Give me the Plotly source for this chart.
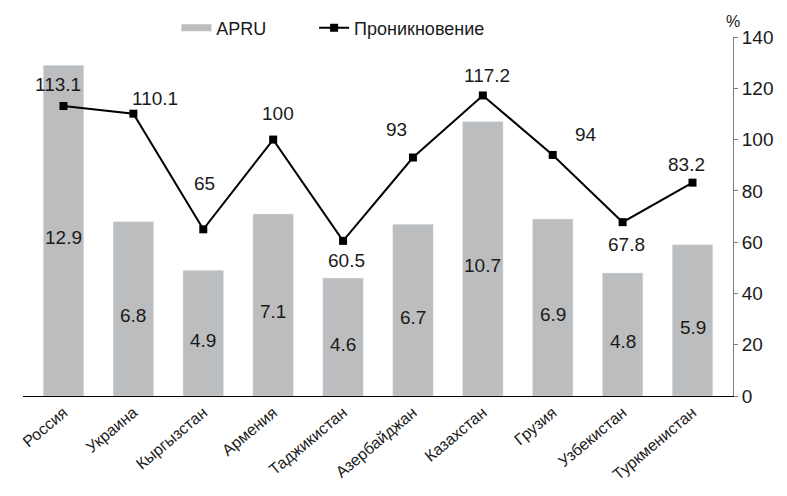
import plotly.graph_objects as go

categories = ["Россия", "Украина", "Кыргызстан", "Армения", "Таджикистан",
              "Азербайджан", "Казахстан", "Грузия", "Узбекистан", "Туркменистан"]
apru = [12.9, 6.8, 4.9, 7.1, 4.6, 6.7, 10.7, 6.9, 4.8, 5.9]
penetration = [113.1, 110.1, 65, 100, 60.5, 93, 117.2, 94, 67.8, 83.2]
right_ticks = [0, 20, 40, 60, 80, 100, 120, 140]

# label offsets in pixels (layout only)
line_label_shift = [(-6, 21), (22, 15), (1, 46), (5, 26), (3, -20),
                    (-16, 28), (4, 20), (33, 20), (4, -22), (-6, 18)]

FONT = "Liberation Sans, Arial, sans-serif"
TXT = "#1a1a1a"
GREY = "#bcbdbf"

fig = go.Figure()
fig.add_trace(go.Bar(x=categories, y=apru, marker_color=GREY, yaxis="y",
                     showlegend=False, hoverinfo="skip"))
# legend stand-in for bars (wide grey strip)
fig.add_trace(go.Scatter(x=[None], y=[None], mode="lines", name="APRU",
                         line=dict(color=GREY, width=7), yaxis="y", legend="legend"))
fig.add_trace(go.Scatter(x=categories, y=penetration, mode="lines+markers",
                         name="Проникновение", yaxis="y2", legend="legend2",
                         line=dict(color="black", width=2),
                         marker=dict(symbol="square", size=8, color="black")))

ann = []
for c, v in zip(categories, apru):
    ann.append(dict(x=c, y=v / 2, xref="x", yref="y", text=str(v), showarrow=False,
                    yshift=-7, font=dict(size=19, color=TXT, family=FONT)))
for c, v, (dx, dy) in zip(categories, penetration, line_label_shift):
    ann.append(dict(x=c, y=v, xref="x", yref="y2", text=f"{v:g}", showarrow=False,
                    xshift=dx, yshift=dy, font=dict(size=19, color=TXT, family=FONT)))
ann.append(dict(x=1, y=1.042, xref="paper", yref="paper", text="%", showarrow=False,
                xanchor="center", yanchor="middle", font=dict(size=16, color=TXT, family=FONT)))

legend_common = dict(orientation="h", xanchor="left", y=1.025, yanchor="middle",
                     font=dict(size=18, color=TXT, family=FONT), bgcolor="rgba(0,0,0,0)",
                     itemwidth=30)

fig.update_layout(
    width=779, height=488,
    margin=dict(l=15, r=54, t=29, b=100, autoexpand=False),
    paper_bgcolor="white", plot_bgcolor="white",
    font=dict(family=FONT, color=TXT),
    bargap=0.42,
    showlegend=True,
    legend=dict(x=0.216, **legend_common),
    legend2=dict(x=0.41, **legend_common),
    xaxis=dict(showline=True, linecolor="black", linewidth=1, ticks="",
               tickangle=-40, tickfont=dict(size=16, color=TXT, family=FONT),
               showgrid=False, zeroline=False, automargin=False),
    yaxis=dict(range=[0, 14], visible=False, showgrid=False, zeroline=False,
               automargin=False),
    yaxis2=dict(range=[0, 140], overlaying="y", side="right", tickvals=right_ticks,
                showline=True, linecolor="#7f7f7f", linewidth=1, ticks="outside",
                ticklen=4, tickcolor="#7f7f7f", showgrid=False, zeroline=False,
                automargin=False, tickfont=dict(size=19, color=TXT, family=FONT)),
    annotations=ann,
)

fig.write_html("out.html")
